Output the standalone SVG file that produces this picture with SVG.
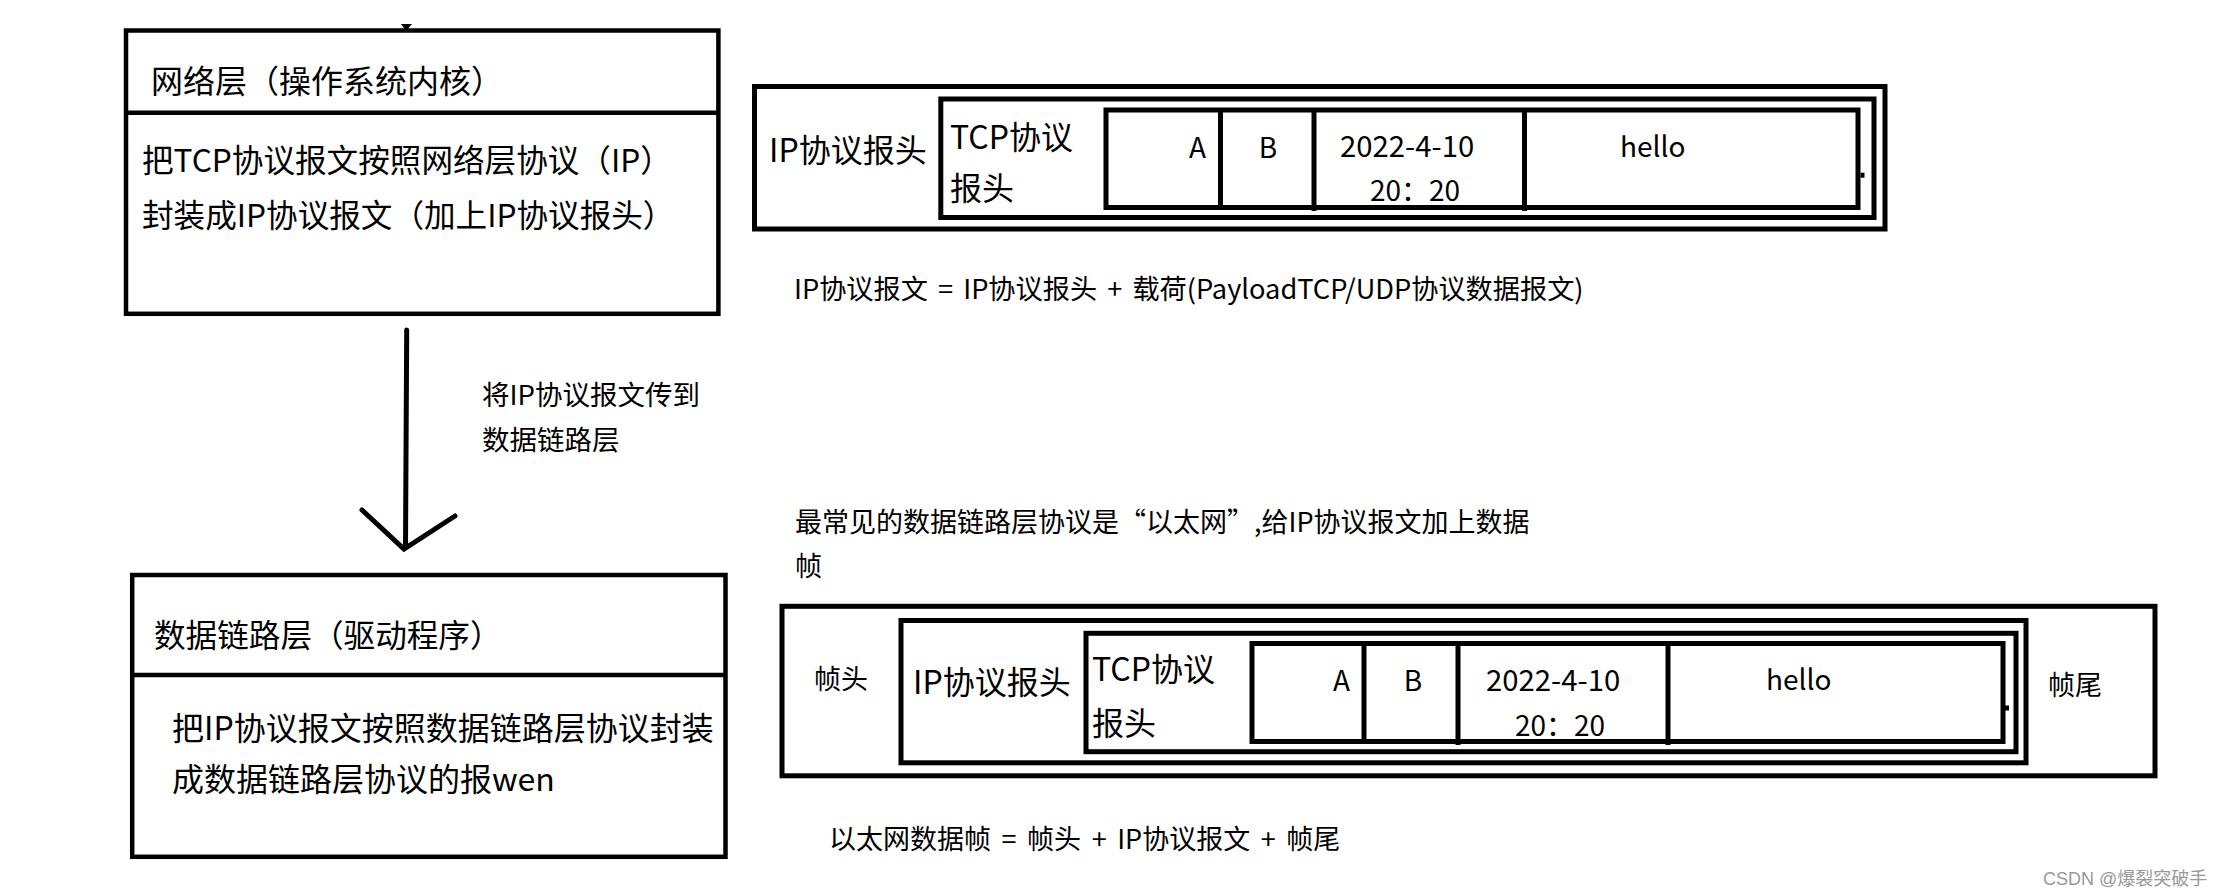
<svg xmlns="http://www.w3.org/2000/svg" width="2230" height="896" viewBox="0 0 2230 896">
<style>
.box{fill:none;stroke:#000;stroke-width:4.5}
.frame{fill:none;stroke:#000;stroke-width:5}
.t{font-family:"Noto Sans CJK SC","Noto Sans",sans-serif;fill:#000}
.big{font-size:32px}
.cell{font-size:28px}
.date{font-size:29.3px}
.note{font-size:27px}
.mid{text-anchor:middle}
.arrow{fill:none;stroke:#000;stroke-width:5;stroke-linecap:round}
</style>
<rect width="2230" height="896" fill="#fff"/>

<g id="network-layer">
<polygon points="401,24 412,24 406,31" fill="#000"/>
<rect class="box" x="126" y="30.5" width="592.4" height="283.3"/>
<line class="box" x1="126" y1="112.8" x2="718.4" y2="112.8"/>
<text class="t" style="font-size:32px" x="151" y="93">网络层（操作系统内核）</text>
<text class="t" style="font-size:31.6px" x="142" y="172">把TCP协议报文按照网络层协议（IP）</text>
<text class="t" style="font-size:31.6px" x="142" y="227">封装成IP协议报文（加上IP协议报头）</text>
</g>

<g id="ip-packet">
<rect class="frame" x="754.5" y="86.5" width="1130.5" height="142.5"/>
<rect class="frame" x="940.8" y="99" width="933.2" height="118.5"/>
<rect class="frame" x="1106" y="110" width="752" height="97.5"/>
<line class="frame" x1="1220.5" y1="110" x2="1220.5" y2="207.5"/>
<line class="frame" x1="1314" y1="110" x2="1314" y2="211"/>
<line class="frame" x1="1524.5" y1="110" x2="1524.5" y2="211"/>
<rect x="1860.5" y="172.7" width="4" height="5" fill="#000"/>
<text class="t big" x="769" y="162">IP协议报头</text>
<text class="t big" x="950" y="149">TCP协议</text>
<text class="t big" x="950" y="200">报头</text>
<text class="t cell" x="1206" y="158" text-anchor="end">A</text>
<text class="t cell mid" x="1268" y="158">B</text>
<text class="t date" x="1340" y="157">2022-4-10</text>
<text class="t cell" x="1370" y="201">20：20</text>
<text class="t cell" x="1620" y="157">hello</text>
</g>

<g id="ip-packet-note">
<text class="t" style="font-size:27.2px;word-spacing:4px" x="794" y="299">IP协议报文 = IP协议报头 + 载荷(PayloadTCP/UDP协议数据报文)</text>
</g>

<g id="datalink-layer">
<rect class="box" x="132.2" y="575" width="593.3" height="281.8"/>
<line class="box" x1="132.2" y1="675" x2="725.5" y2="675"/>
<text class="t" style="font-size:31.6px" x="154" y="647">数据链路层（驱动程序）</text>
<text class="t" style="font-size:32px" x="172" y="740">把IP协议报文按照数据链路层协议封装</text>
<text class="t" style="font-size:32px" x="172" y="791">成数据链路层协议的报wen</text>
</g>

<g id="ethernet-note">
<text class="t note" x="795" y="532">最常见的数据链路层协议是“以太网”,给IP协议报文加上数据</text>
<text class="t note" x="795" y="576">帧</text>
</g>

<g id="ethernet-frame">
<rect class="frame" x="782" y="606.3" width="1373" height="169.5"/>
<rect class="frame" x="901" y="620.5" width="1125" height="142.3"/>
<rect class="frame" x="1086" y="633.3" width="930" height="118.4"/>
<rect class="frame" x="1252" y="643.5" width="751" height="98"/>
<line class="frame" x1="1364" y1="643.5" x2="1364" y2="741.5"/>
<line class="frame" x1="1458" y1="643.5" x2="1458" y2="745"/>
<line class="frame" x1="1668" y1="643.5" x2="1668" y2="745"/>
<rect x="2005" y="705.5" width="4" height="5" fill="#000"/>
<text class="t note" x="814" y="689">帧头</text>
<text class="t big" x="913" y="694">IP协议报头</text>
<text class="t big" x="1092" y="681">TCP协议</text>
<text class="t big" x="1092" y="735">报头</text>
<text class="t cell" x="1350" y="691" text-anchor="end">A</text>
<text class="t cell mid" x="1413" y="691">B</text>
<text class="t date" x="1486" y="691">2022-4-10</text>
<text class="t cell" x="1515" y="736">20：20</text>
<text class="t cell" x="1766" y="690">hello</text>
<text class="t note" x="2048" y="695">帧尾</text>
</g>

<g id="ethernet-frame-note">
<text class="t" style="font-size:27px;word-spacing:4.5px" x="829" y="849">以太网数据帧 = 帧头 + IP协议报文 + 帧尾</text>
</g>

<g id="connectors">
<path class="arrow" d="M406.7,330 L405.5,547"/>
<path class="arrow" d="M362,510 L404,549 L455,516"/>
<text class="t" style="font-size:27.5px" x="482" y="405">将IP协议报文传到</text>
<text class="t" style="font-size:27.5px" x="482" y="450">数据链路层</text>
</g>

<text x="2043" y="885" style="font-family:'Liberation Sans','Noto Sans CJK SC',sans-serif;font-size:18px;fill:#999">CSDN @爆裂突破手</text>
</svg>
